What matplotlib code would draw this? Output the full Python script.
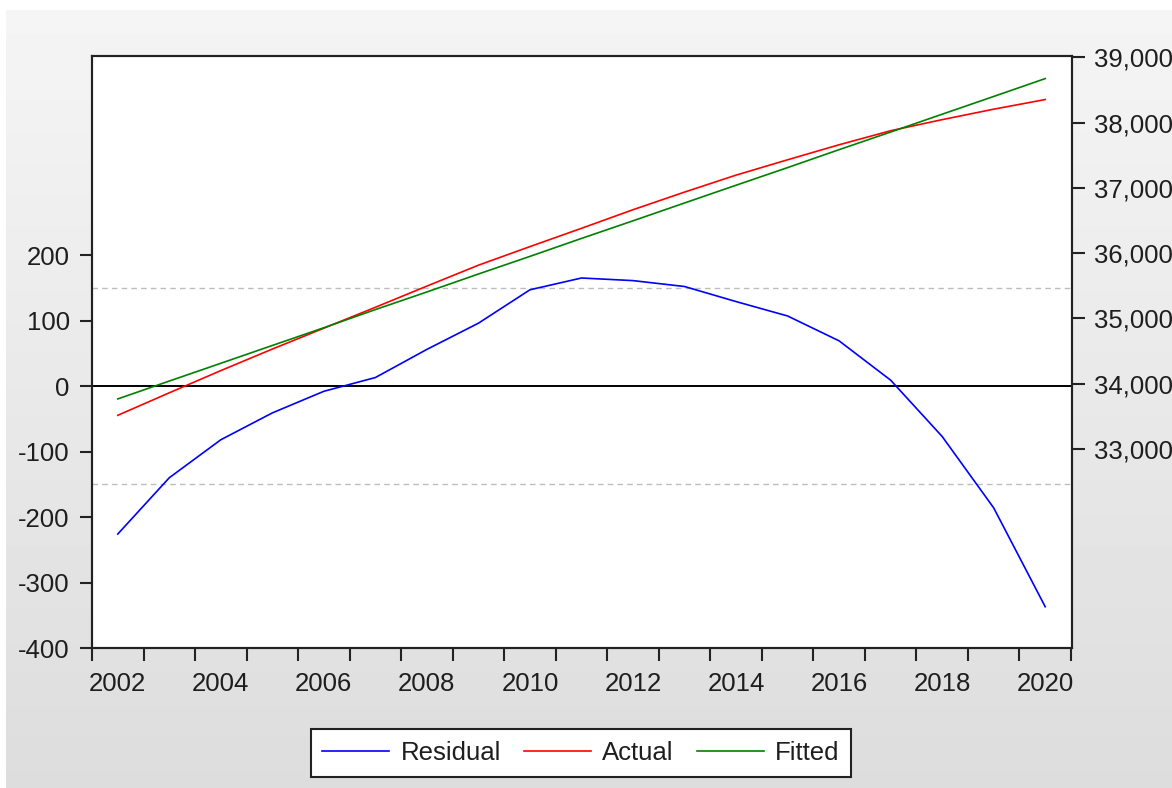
import numpy as np
import matplotlib
matplotlib.use("Agg")
import matplotlib.pyplot as plt
from matplotlib.ticker import FuncFormatter

# Datos (observaciones anuales)
anios = [2002, 2003, 2004, 2005, 2006, 2007, 2008, 2009, 2010, 2011,
         2012, 2013, 2014, 2015, 2016, 2017, 2018, 2019, 2020]
residual = [-226, -140, -82, -41, -8, 13, 56, 96, 147, 165,
            161, 152, 129, 107, 69, 9, -77, -186, -337]
actual = [33515, 33860, 34200, 34530, 34850, 35170, 35495, 35815, 36100, 36380,
          36665, 36935, 37195, 37430, 37660, 37875, 38045, 38205, 38353]
fitted = [33766, 34040, 34312, 34585, 34857, 35135, 35405, 35680, 35950, 36225,
          36495, 36768, 37040, 37310, 37585, 37855, 38128, 38400, 38674]

etiquetas_x = [2002, 2004, 2006, 2008, 2010, 2012, 2014, 2016, 2018, 2020]
ticks_izq = [-400, -300, -200, -100, 0, 100, 200]
ticks_der = [33000, 34000, 35000, 36000, 37000, 38000, 39000]
banda_residual = 150

plt.rcParams['font.family'] = ['Liberation Sans', 'DejaVu Sans']
color_texto = '#1e1e1e'
tam = 18.5

W, H = 1172, 788
fig = plt.figure(figsize=(W / 100, H / 100), dpi=100)
fig.patch.set_facecolor('white')

# Fondo gris degradado (estilo EViews)
fondo = fig.add_axes([6 / W, 0, 1 - 6 / W, 1 - 10 / H])
grad = np.linspace(0.96, 0.865, 256).reshape(-1, 1)
fondo.imshow(grad, aspect='auto', cmap='gray', vmin=0, vmax=1)
fondo.axis('off')
fondo.set_zorder(-1)

ax = fig.add_axes([92 / W, 1 - 648 / H, 980 / W, 592 / H])
ax.set_facecolor('white')
ax2 = ax.twinx()

# Lineas de referencia del residuo
ax.axhline(0, color='black', lw=1.4, zorder=1)
ax.axhline(banda_residual, color='#bdbdbd', lw=1.0, ls=(0, (4, 3)), zorder=1)
ax.axhline(-banda_residual, color='#bdbdbd', lw=1.0, ls=(0, (4, 3)), zorder=1)

l_res, = ax.plot(anios, residual, color='#0000ff', lw=1.2, label='Residual', zorder=3)
l_act, = ax2.plot(anios, actual, color='#ff0000', lw=1.2, label='Actual', zorder=3)
l_fit, = ax2.plot(anios, fitted, color='#008000', lw=1.2, label='Fitted', zorder=3)

ax.set_xlim(2001.5, 2020.52)
ax.set_ylim(-400, 504)
ax2.set_ylim(29950, 39020)

# Marcas en los limites de cada anio, etiquetas cada dos anios
ax.set_xticks(np.arange(2001.5, 2021, 1.0))
ax.set_xticklabels([])
ax.set_xticks(etiquetas_x, minor=True)
ax.set_xticklabels([str(a) for a in etiquetas_x], minor=True)
ax.tick_params(axis='x', which='major', direction='out', length=9, width=1.5, color='#222222')
ax.tick_params(axis='x', which='minor', length=0, pad=17, labelsize=tam, labelcolor=color_texto)

ax.set_yticks(ticks_izq)
ax.set_yticklabels([str(v) for v in ticks_izq])
ax.tick_params(axis='y', direction='out', length=9, width=1.5, pad=7,
               labelsize=tam, labelcolor=color_texto, color='#222222')

ax2.set_yticks(ticks_der)
ax2.yaxis.set_major_formatter(FuncFormatter(lambda v, p: f"{int(v):,}"))
ax2.tick_params(axis='y', direction='out', length=9, width=1.5, pad=7,
                labelsize=tam, labelcolor=color_texto, color='#222222')

for eje in (ax, ax2):
    for lado in eje.spines.values():
        lado.set_color('#222222')
        lado.set_linewidth(1.5)

leg = fig.legend(handles=[l_res, l_act, l_fit], loc='center',
                 bbox_to_anchor=(581 / W, 1 - 753 / H), ncol=3, fontsize=tam,
                 frameon=True, fancybox=False, framealpha=1, edgecolor='#222222',
                 handlelength=2.6, handletextpad=0.45, columnspacing=0.9,
                 borderpad=0.45)
leg.get_frame().set_linewidth(1.5)
for t in leg.get_texts():
    t.set_color(color_texto)

fig.savefig('out.png', dpi=100)
